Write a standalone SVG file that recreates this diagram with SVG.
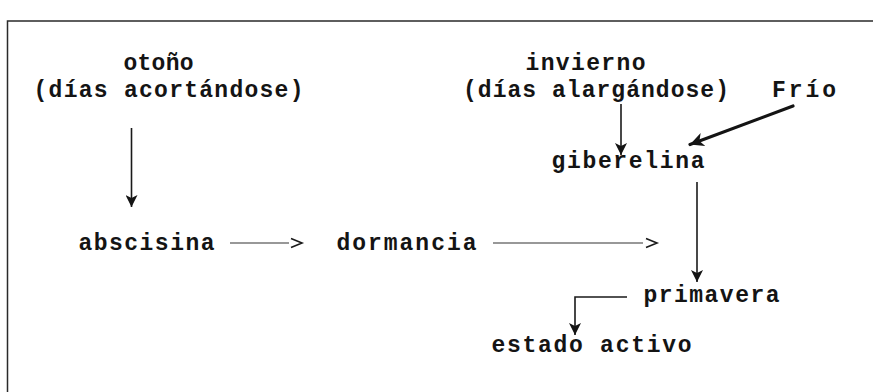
<svg xmlns="http://www.w3.org/2000/svg" width="873" height="392" viewBox="0 0 873 392">
  <style>
    text { font-family: "Liberation Mono", "DejaVu Sans Mono", monospace; font-weight: bold; font-size: 23px; fill: #141414; text-anchor: middle; }
    .ln { stroke: #1a1a1a; stroke-width: 1.6; fill: none; }
    .thin { stroke: #333; stroke-width: 1.2; fill: none; }
    .thick { stroke: #141414; stroke-width: 3.2; fill: none; stroke-linecap: round; }
    .frame { stroke: #2a2a2a; stroke-width: 1.5; fill: none; }
  </style>
  <defs>
    <marker id="ah" viewBox="0 0 12 12" refX="12" refY="6" markerWidth="12" markerHeight="12" markerUnits="userSpaceOnUse" orient="auto">
      <path d="M0,0 L12,6 L0,12 L3,6 z" fill="#141414"/>
    </marker>
    <marker id="ahb" viewBox="0 0 14 14" refX="14" refY="7" markerWidth="14" markerHeight="14" markerUnits="userSpaceOnUse" orient="auto">
      <path d="M0,0 L14,7 L0,14 L4,7 z" fill="#141414"/>
    </marker>
  </defs>
  <rect width="873" height="392" fill="#ffffff"/>
  <path class="frame" d="M7.5,392 L7.5,21 L873,21"/>

  <g id="otono"><text x="158.5" y="70" textLength="70" lengthAdjust="spacing">otoño</text><text x="168.5" y="97" textLength="270" lengthAdjust="spacing">(días acortándose)</text></g>
  <g id="invierno"><text x="585.5" y="70" textLength="120" lengthAdjust="spacing">invierno</text><text x="596" y="97" textLength="266" lengthAdjust="spacing">(días alargándose)</text></g>
  <g id="frio"><text x="804" y="97" textLength="64" lengthAdjust="spacing">Frío</text></g>
  <g id="giberelina"><text x="628" y="168" textLength="153" lengthAdjust="spacing">giberelina</text></g>
  <g id="abscisina"><text x="146.5" y="250" textLength="136" lengthAdjust="spacing">abscisina</text></g>
  <g id="dormancia"><text x="406.5" y="250" textLength="140" lengthAdjust="spacing">dormancia</text></g>
  <g id="primavera"><text x="711.5" y="302" textLength="136" lengthAdjust="spacing">primavera</text></g>
  <g id="estado"><text x="591.5" y="352" textLength="200" lengthAdjust="spacing">estado activo</text></g>

  <g id="connectors">
    <line class="ln" x1="131.5" y1="128" x2="131.5" y2="207" marker-end="url(#ah)"/>
    <line class="ln" x1="621" y1="104" x2="621" y2="155" marker-end="url(#ah)"/>
    <line class="thick" x1="793" y1="106" x2="690" y2="144.5" marker-end="url(#ahb)"/>
    <line class="thin" x1="230" y1="243" x2="289" y2="243"/>
    <polyline class="ln" points="291,238.5 302,243 291,247.5"/>
    <line class="thin" x1="493" y1="243" x2="643" y2="243"/>
    <polyline class="ln" points="646,238.5 657,243 646,247.5"/>
    <line class="ln" x1="697" y1="182" x2="697" y2="282" marker-end="url(#ah)"/>
    <polyline class="ln" points="627,297 575,297 575,335" marker-end="url(#ah)"/>
  </g>
</svg>
